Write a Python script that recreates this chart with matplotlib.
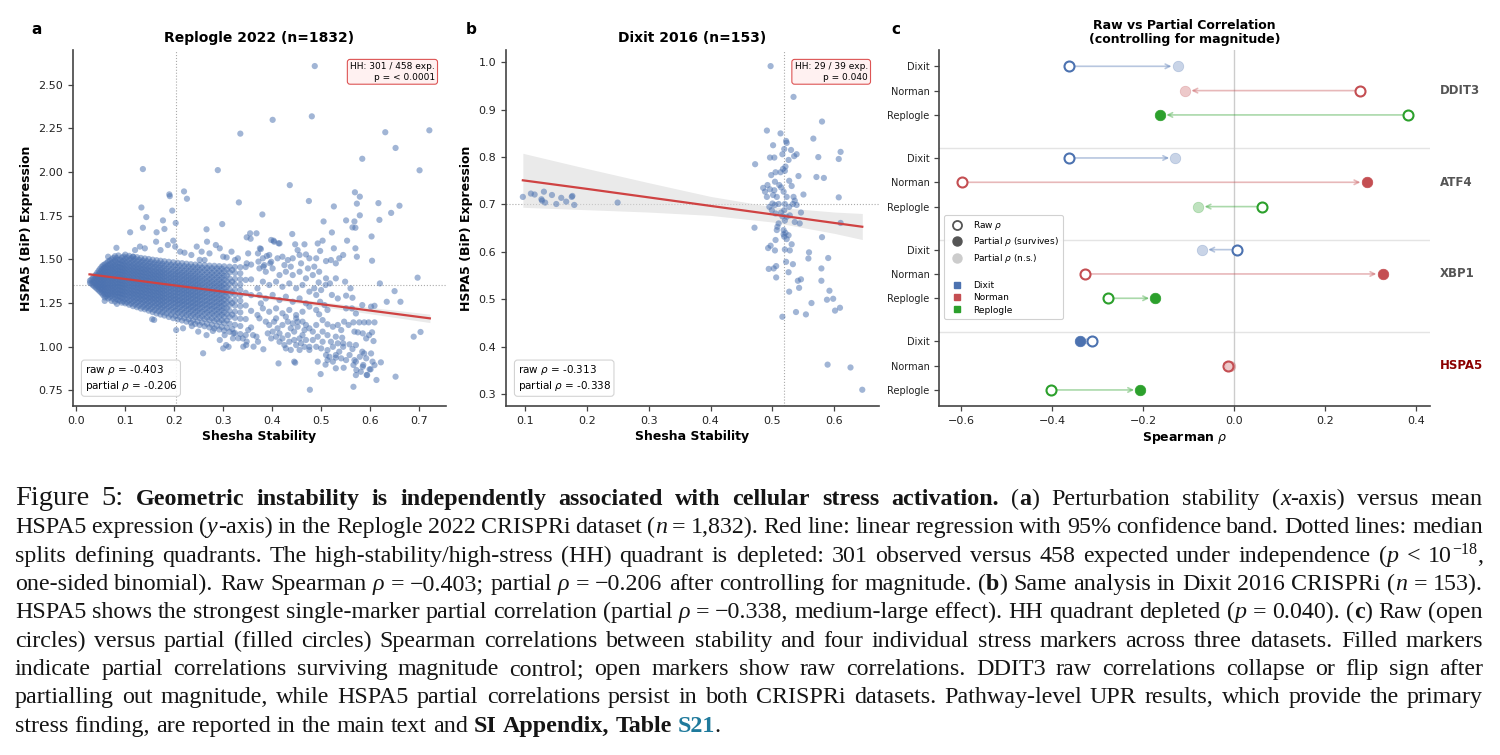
import matplotlib
matplotlib.use("Agg")
import matplotlib.pyplot as plt
from matplotlib.lines import Line2D
import numpy as np

# ---------------------------------------------------------------- data ----
# Panel a : Replogle 2022 -- dense core read as vertical strips (two passes)
a_core_x = [0.028, 0.034, 0.040, 0.046, 0.052, 0.058, 0.065, 0.072, 0.079, 0.086,
            0.093, 0.100, 0.108, 0.116, 0.124, 0.132, 0.140, 0.148, 0.156, 0.164,
            0.172, 0.180, 0.189, 0.198, 0.207, 0.216, 0.225, 0.234, 0.243, 0.252,
            0.262, 0.272, 0.282, 0.292, 0.302, 0.313, 0.324, 0.335, 0.346, 0.357]
a_core_y = [
    [1.365, 1.378],
    [1.352, 1.371, 1.392],
    [1.338, 1.356, 1.375, 1.394, 1.412],
    [1.322, 1.341, 1.359, 1.378, 1.396, 1.415, 1.436],
    [1.305, 1.326, 1.344, 1.361, 1.380, 1.398, 1.417, 1.438, 1.458],
    [1.282, 1.301, 1.322, 1.340, 1.358, 1.377, 1.395, 1.414, 1.433, 1.452, 1.471],
    [1.276, 1.296, 1.316, 1.335, 1.353, 1.372, 1.390, 1.409, 1.428, 1.447, 1.466, 1.488],
    [1.262, 1.290, 1.309, 1.328, 1.347, 1.366, 1.384, 1.403, 1.421, 1.440, 1.459, 1.478, 1.500],
    [1.258, 1.285, 1.304, 1.322, 1.341, 1.360, 1.379, 1.397, 1.416, 1.434, 1.453, 1.472, 1.494, 1.518],
    [1.266, 1.287, 1.306, 1.325, 1.344, 1.362, 1.381, 1.400, 1.418, 1.437, 1.456, 1.475, 1.497, 1.522],
    [1.252, 1.278, 1.298, 1.317, 1.336, 1.355, 1.373, 1.392, 1.411, 1.429, 1.448, 1.467, 1.488, 1.510],
    [1.248, 1.271, 1.292, 1.311, 1.330, 1.349, 1.367, 1.386, 1.405, 1.424, 1.442, 1.461, 1.481, 1.503, 1.527],
    [1.240, 1.264, 1.286, 1.305, 1.324, 1.343, 1.362, 1.381, 1.399, 1.418, 1.437, 1.456, 1.476, 1.498, 1.520],
    [1.232, 1.258, 1.280, 1.300, 1.319, 1.338, 1.357, 1.376, 1.394, 1.413, 1.432, 1.451, 1.471, 1.493, 1.515],
    [1.226, 1.253, 1.275, 1.295, 1.314, 1.333, 1.352, 1.371, 1.390, 1.408, 1.427, 1.446, 1.466, 1.488, 1.512],
    [1.218, 1.246, 1.269, 1.289, 1.309, 1.328, 1.347, 1.366, 1.385, 1.404, 1.423, 1.442, 1.462, 1.484, 1.508],
    [1.214, 1.240, 1.263, 1.284, 1.304, 1.323, 1.342, 1.361, 1.380, 1.399, 1.418, 1.437, 1.457, 1.480, 1.505],
    [1.206, 1.233, 1.257, 1.278, 1.298, 1.318, 1.337, 1.356, 1.375, 1.394, 1.413, 1.433, 1.453, 1.476, 1.502],
    [1.198, 1.227, 1.251, 1.273, 1.293, 1.313, 1.332, 1.351, 1.370, 1.389, 1.408, 1.428, 1.449, 1.472, 1.498],
    [1.190, 1.222, 1.246, 1.268, 1.288, 1.308, 1.327, 1.346, 1.366, 1.385, 1.404, 1.424, 1.445, 1.468, 1.495],
    [1.184, 1.216, 1.240, 1.262, 1.283, 1.303, 1.322, 1.342, 1.361, 1.380, 1.400, 1.420, 1.441, 1.465, 1.492],
    [1.178, 1.210, 1.235, 1.257, 1.278, 1.298, 1.318, 1.337, 1.357, 1.376, 1.396, 1.416, 1.437, 1.461, 1.489],
    [1.170, 1.204, 1.229, 1.252, 1.273, 1.293, 1.313, 1.333, 1.352, 1.372, 1.392, 1.412, 1.433, 1.458, 1.486],
    [1.163, 1.198, 1.224, 1.247, 1.268, 1.288, 1.308, 1.328, 1.348, 1.368, 1.388, 1.408, 1.430, 1.455, 1.483],
    [1.156, 1.192, 1.218, 1.242, 1.263, 1.284, 1.304, 1.324, 1.344, 1.364, 1.384, 1.405, 1.427, 1.452, 1.480],
    [1.150, 1.186, 1.213, 1.237, 1.258, 1.279, 1.300, 1.320, 1.340, 1.360, 1.381, 1.402, 1.424, 1.449, 1.478],
    [1.143, 1.180, 1.208, 1.232, 1.254, 1.275, 1.296, 1.316, 1.336, 1.357, 1.378, 1.399, 1.421, 1.446, 1.475],
    [1.137, 1.175, 1.203, 1.227, 1.249, 1.271, 1.292, 1.312, 1.333, 1.354, 1.375, 1.396, 1.418, 1.444, 1.472],
    [1.130, 1.169, 1.198, 1.222, 1.245, 1.267, 1.288, 1.309, 1.330, 1.351, 1.372, 1.393, 1.416, 1.442, 1.470],
    [1.124, 1.164, 1.193, 1.218, 1.241, 1.263, 1.284, 1.305, 1.326, 1.348, 1.369, 1.391, 1.414, 1.440, 1.468, 1.497],
    [1.117, 1.158, 1.188, 1.213, 1.237, 1.259, 1.281, 1.302, 1.323, 1.345, 1.367, 1.389, 1.412, 1.438, 1.466, 1.496],
    [1.110, 1.152, 1.183, 1.209, 1.233, 1.255, 1.277, 1.299, 1.321, 1.343, 1.365, 1.387, 1.410, 1.436, 1.464],
    [1.104, 1.147, 1.178, 1.205, 1.229, 1.252, 1.274, 1.296, 1.318, 1.340, 1.362, 1.385, 1.409, 1.435, 1.463],
    [1.098, 1.141, 1.173, 1.200, 1.225, 1.248, 1.271, 1.293, 1.315, 1.338, 1.360, 1.383, 1.407, 1.433, 1.461],
    [1.092, 1.136, 1.169, 1.196, 1.221, 1.245, 1.268, 1.290, 1.313, 1.336, 1.358, 1.382, 1.406, 1.432, 1.460],
    [1.085, 1.132, 1.170, 1.205, 1.238, 1.268, 1.298, 1.328, 1.358, 1.390, 1.425, 1.458],
    [1.078, 1.125, 1.165, 1.200, 1.235, 1.265, 1.296, 1.326, 1.356, 1.388, 1.422, 1.456],
    [1.072, 1.118, 1.160, 1.196, 1.232, 1.262, 1.294, 1.325, 1.355, 1.386, 1.420, 1.455],
    [1.066, 1.158, 1.236, 1.308, 1.382, 1.456],
    [1.110, 1.205, 1.295, 1.385, 1.470],
]
a_core2_x = [0.031, 0.037, 0.043, 0.049, 0.055, 0.0615, 0.0685, 0.0755, 0.0825,
             0.0895, 0.0965, 0.104, 0.112, 0.120, 0.128, 0.136, 0.144, 0.152,
             0.160, 0.168, 0.176, 0.1845, 0.1935, 0.2025, 0.2115, 0.2205, 0.2295,
             0.2385, 0.2475, 0.257, 0.267, 0.277, 0.287, 0.297, 0.3075, 0.3185]
a_core2_y = [
    [1.360, 1.384],
    [1.345, 1.364, 1.383, 1.402],
    [1.330, 1.349, 1.367, 1.386, 1.405, 1.424],
    [1.314, 1.333, 1.352, 1.370, 1.389, 1.407, 1.427, 1.447],
    [1.295, 1.314, 1.334, 1.352, 1.371, 1.389, 1.408, 1.427, 1.447, 1.466],
    [1.288, 1.307, 1.327, 1.345, 1.364, 1.383, 1.401, 1.420, 1.439, 1.458, 1.478],
    [1.282, 1.302, 1.321, 1.340, 1.358, 1.377, 1.396, 1.414, 1.433, 1.452, 1.471, 1.493],
    [1.274, 1.297, 1.316, 1.335, 1.353, 1.372, 1.391, 1.409, 1.428, 1.446, 1.465, 1.485, 1.508],
    [1.272, 1.294, 1.313, 1.331, 1.350, 1.369, 1.388, 1.407, 1.425, 1.444, 1.463, 1.484, 1.507],
    [1.262, 1.286, 1.305, 1.324, 1.343, 1.362, 1.380, 1.399, 1.418, 1.437, 1.456, 1.476, 1.498],
    [1.259, 1.282, 1.302, 1.321, 1.340, 1.358, 1.377, 1.396, 1.415, 1.434, 1.452, 1.472, 1.493, 1.516],
    [1.253, 1.276, 1.297, 1.316, 1.335, 1.354, 1.373, 1.392, 1.410, 1.429, 1.448, 1.467, 1.488, 1.511],
    [1.247, 1.270, 1.291, 1.310, 1.329, 1.348, 1.367, 1.386, 1.405, 1.423, 1.442, 1.462, 1.483, 1.506],
    [1.241, 1.265, 1.286, 1.305, 1.324, 1.343, 1.362, 1.381, 1.400, 1.419, 1.438, 1.457, 1.478, 1.502],
    [1.234, 1.259, 1.280, 1.300, 1.319, 1.338, 1.357, 1.376, 1.395, 1.414, 1.433, 1.453, 1.474, 1.497],
    [1.228, 1.253, 1.275, 1.295, 1.314, 1.333, 1.352, 1.371, 1.390, 1.409, 1.428, 1.448, 1.469, 1.493],
    [1.222, 1.247, 1.269, 1.289, 1.309, 1.328, 1.347, 1.366, 1.385, 1.404, 1.424, 1.444, 1.465, 1.489],
    [1.216, 1.241, 1.264, 1.284, 1.304, 1.323, 1.342, 1.361, 1.381, 1.400, 1.419, 1.439, 1.461, 1.485],
    [1.209, 1.236, 1.259, 1.279, 1.299, 1.318, 1.338, 1.357, 1.376, 1.396, 1.415, 1.435, 1.457, 1.481],
    [1.203, 1.230, 1.253, 1.274, 1.294, 1.314, 1.333, 1.353, 1.372, 1.391, 1.411, 1.431, 1.453, 1.478],
    [1.197, 1.224, 1.248, 1.269, 1.289, 1.309, 1.329, 1.348, 1.368, 1.387, 1.407, 1.428, 1.450, 1.475],
    [1.190, 1.219, 1.242, 1.264, 1.284, 1.304, 1.324, 1.344, 1.363, 1.383, 1.403, 1.424, 1.446, 1.472],
    [1.183, 1.213, 1.237, 1.259, 1.279, 1.299, 1.319, 1.339, 1.359, 1.379, 1.399, 1.420, 1.443, 1.469],
    [1.176, 1.207, 1.231, 1.254, 1.274, 1.294, 1.315, 1.335, 1.355, 1.375, 1.396, 1.417, 1.440, 1.466],
    [1.170, 1.201, 1.226, 1.249, 1.269, 1.290, 1.311, 1.331, 1.351, 1.371, 1.392, 1.414, 1.437, 1.463],
    [1.164, 1.195, 1.221, 1.244, 1.265, 1.286, 1.307, 1.327, 1.347, 1.368, 1.389, 1.411, 1.434, 1.461],
    [1.157, 1.190, 1.216, 1.239, 1.261, 1.282, 1.303, 1.323, 1.344, 1.365, 1.386, 1.408, 1.432, 1.458],
    [1.151, 1.184, 1.211, 1.235, 1.256, 1.278, 1.299, 1.320, 1.341, 1.362, 1.384, 1.406, 1.430, 1.456],
    [1.144, 1.179, 1.206, 1.230, 1.252, 1.274, 1.295, 1.316, 1.338, 1.359, 1.381, 1.403, 1.428, 1.454],
    [1.138, 1.173, 1.201, 1.226, 1.248, 1.270, 1.292, 1.313, 1.335, 1.357, 1.379, 1.401, 1.426, 1.452],
    [1.131, 1.167, 1.196, 1.221, 1.244, 1.266, 1.288, 1.310, 1.332, 1.354, 1.376, 1.399, 1.424, 1.450],
    [1.125, 1.162, 1.191, 1.217, 1.240, 1.263, 1.285, 1.307, 1.329, 1.352, 1.374, 1.398, 1.422, 1.449],
    [1.119, 1.156, 1.186, 1.212, 1.236, 1.259, 1.282, 1.304, 1.327, 1.349, 1.372, 1.396, 1.421, 1.448],
    [1.113, 1.151, 1.182, 1.208, 1.233, 1.256, 1.279, 1.302, 1.325, 1.347, 1.370, 1.394, 1.420, 1.447],
    [1.108, 1.150, 1.187, 1.221, 1.253, 1.283, 1.313, 1.343, 1.374, 1.407, 1.441],
    [1.101, 1.183, 1.250, 1.311, 1.372, 1.439],
]
# Panel a : scattered points outside the core (x, y)
a_sparse = [
    (0.487, 2.607), (0.481, 2.319), (0.401, 2.299), (0.335, 2.220), (0.631, 2.228),
    (0.721, 2.239), (0.652, 2.138), (0.584, 2.076), (0.136, 2.017), (0.289, 2.011),
    (0.701, 2.010), (0.436, 1.925), (0.190, 1.872), (0.191, 1.862), (0.220, 1.889),
    (0.226, 1.847), (0.332, 1.826), (0.475, 1.834), (0.569, 1.884), (0.579, 1.859),
    (0.573, 1.819), (0.617, 1.822), (0.660, 1.807), (0.526, 1.803), (0.133, 1.797),
    (0.196, 1.779), (0.143, 1.742), (0.177, 1.723), (0.203, 1.708), (0.380, 1.757),
    (0.643, 1.766), (0.579, 1.752), (0.619, 1.726), (0.551, 1.723), (0.568, 1.717),
    (0.505, 1.717), (0.564, 1.683), (0.570, 1.681), (0.136, 1.681), (0.180, 1.674),
    (0.266, 1.672), (0.298, 1.702), (0.110, 1.655), (0.164, 1.655), (0.441, 1.645),
    (0.522, 1.654), (0.355, 1.649), (0.368, 1.649), (0.603, 1.631), (0.553, 1.607),
    (0.503, 1.607),
    (0.082, 1.566), (0.065, 1.515), (0.116, 1.515), (0.120, 1.553), (0.130, 1.573),
    (0.140, 1.563), (0.163, 1.601), (0.172, 1.553), (0.187, 1.582), (0.198, 1.607),
    (0.202, 1.573), (0.212, 1.544), (0.221, 1.538), (0.235, 1.525), (0.246, 1.573),
    (0.256, 1.544), (0.267, 1.601), (0.272, 1.534), (0.285, 1.582), (0.293, 1.563),
    (0.300, 1.515), (0.307, 1.511), (0.317, 1.544), (0.324, 1.496), (0.330, 1.506),
    (0.348, 1.626), (0.356, 1.618), (0.351, 1.534), (0.348, 1.477), (0.371, 1.534),
    (0.375, 1.563), (0.389, 1.519), (0.396, 1.477), (0.403, 1.607), (0.413, 1.592),
    (0.372, 1.487), (0.382, 1.458),
    (0.398, 1.611), (0.404, 1.601), (0.415, 1.591), (0.447, 1.586), (0.452, 1.553),
    (0.466, 1.586), (0.493, 1.591), (0.498, 1.548), (0.526, 1.563), (0.545, 1.525),
    (0.537, 1.506), (0.570, 1.563), (0.573, 1.515), (0.377, 1.559), (0.394, 1.525),
    (0.381, 1.506), (0.411, 1.506), (0.421, 1.515), (0.432, 1.496), (0.442, 1.506),
    (0.456, 1.525), (0.469, 1.528), (0.476, 1.506), (0.490, 1.506), (0.510, 1.490),
    (0.520, 1.496), (0.530, 1.477), (0.604, 1.492), (0.697, 1.395), (0.620, 1.362),
    (0.650, 1.318), (0.662, 1.257), (0.634, 1.257), (0.689, 1.057), (0.703, 1.084),
    (0.652, 0.828), (0.566, 0.770), (0.477, 0.753), (0.499, 0.843), (0.530, 0.876),
    (0.546, 0.879), (0.571, 0.837), (0.581, 0.856), (0.594, 0.837), (0.601, 0.870),
    (0.613, 0.809), (0.609, 0.894), (0.622, 0.910), (0.585, 0.885), (0.592, 0.933),
    (0.605, 0.914), (0.571, 0.914), (0.579, 0.942), (0.588, 0.961), (0.602, 0.961),
    (0.607, 1.032), (0.558, 0.952), (0.568, 0.923), (0.551, 0.923), (0.541, 0.933),
    (0.530, 0.937), (0.513, 0.923), (0.524, 0.914), (0.510, 0.952), (0.537, 0.971),
    (0.545, 0.999), (0.524, 0.999), (0.520, 1.028), (0.534, 1.019), (0.545, 1.019),
    (0.558, 1.013), (0.564, 0.986), (0.571, 1.009), (0.584, 0.971), (0.568, 1.086),
    (0.575, 1.082), (0.585, 1.076), (0.592, 1.047), (0.598, 1.066), (0.604, 1.082),
    (0.547, 1.143), (0.556, 1.124), (0.566, 1.139), (0.578, 1.139), (0.588, 1.139),
    (0.597, 1.139), (0.609, 1.139), (0.551, 1.219), (0.563, 1.219), (0.571, 1.190),
    (0.584, 1.238), (0.602, 1.229), (0.609, 1.234), (0.560, 1.334), (0.564, 1.280),
    (0.551, 1.292), (0.534, 1.276), (0.522, 1.296), (0.530, 1.391), (0.549, 1.372),
    (0.509, 1.353), (0.518, 1.362), (0.510, 1.391), (0.495, 1.368), (0.486, 1.334),
    (0.500, 1.324), (0.498, 1.257), (0.507, 1.238), (0.513, 1.210), (0.490, 1.210),
    (0.476, 1.229), (0.496, 1.185), (0.503, 1.152), (0.513, 1.128), (0.524, 1.114),
    (0.534, 1.124), (0.541, 1.095), (0.530, 1.057), (0.543, 1.051), (0.503, 1.086),
    (0.513, 1.066), (0.503, 1.028), (0.490, 1.124), (0.483, 1.086), (0.493, 1.057),
    (0.483, 1.038), (0.476, 0.999), (0.490, 0.999), (0.500, 0.990), (0.462, 1.066),
    (0.469, 1.038), (0.459, 1.019), (0.466, 0.999), (0.476, 0.981), (0.513, 0.980),
    (0.517, 0.942), (0.530, 0.952),
    (0.394, 1.124), (0.404, 1.143), (0.411, 1.105), (0.401, 1.086), (0.408, 1.057),
    (0.415, 1.076), (0.421, 1.047), (0.432, 1.066), (0.438, 1.105), (0.442, 1.133),
    (0.445, 1.086), (0.452, 1.114), (0.435, 1.028), (0.445, 1.038), (0.449, 1.009),
    (0.456, 1.047), (0.425, 1.009), (0.415, 1.028), (0.428, 0.990), (0.438, 0.981),
    (0.456, 0.981), (0.462, 1.143), (0.469, 1.124), (0.476, 1.105), (0.466, 1.095),
    (0.452, 1.143), (0.432, 1.143), (0.421, 1.124), (0.398, 1.047), (0.391, 1.076),
    (0.413, 0.904), (0.445, 0.914), (0.493, 0.914), (0.447, 0.908), (0.509, 0.897),
    (0.566, 0.895), (0.572, 0.866), (0.586, 0.895), (0.599, 0.870), (0.593, 0.838),
    (0.374, 1.448), (0.387, 1.429), (0.401, 1.448), (0.415, 1.410), (0.428, 1.429),
    (0.442, 1.410), (0.456, 1.429), (0.469, 1.391), (0.483, 1.410), (0.496, 1.429),
    (0.381, 1.372), (0.394, 1.353), (0.408, 1.372), (0.421, 1.343), (0.435, 1.362),
    (0.449, 1.334), (0.462, 1.353), (0.476, 1.315), (0.490, 1.296), (0.374, 1.296),
    (0.387, 1.276), (0.401, 1.296), (0.415, 1.267), (0.428, 1.286), (0.442, 1.257),
    (0.456, 1.276), (0.469, 1.248), (0.381, 1.219), (0.394, 1.200), (0.408, 1.219),
    (0.421, 1.191), (0.435, 1.210), (0.449, 1.181), (0.462, 1.200), (0.374, 1.162),
    (0.387, 1.143), (0.408, 1.162), (0.428, 1.171), (0.449, 1.162), (0.384, 1.467),
    (0.398, 1.486), (0.425, 1.467), (0.438, 1.458), (0.459, 1.477), (0.486, 1.458),
    (0.473, 1.448), (0.370, 1.334), (0.377, 1.248), (0.370, 1.181),
    (0.155, 1.157), (0.159, 1.153), (0.204, 1.095), (0.218, 1.105), (0.249, 1.086),
    (0.266, 1.066), (0.293, 1.038), (0.306, 1.009), (0.303, 1.066), (0.320, 1.047),
    (0.347, 1.009), (0.340, 1.047), (0.361, 1.066), (0.371, 1.028), (0.300, 0.990),
    (0.311, 0.999), (0.341, 1.000), (0.362, 1.000), (0.348, 1.029), (0.331, 1.048),
    (0.321, 1.076), (0.351, 1.095), (0.368, 1.057), (0.382, 0.985), (0.259, 0.962),
    (0.058, 1.262), (0.083, 1.245), (0.236, 1.118), (0.279, 1.090),
]
a_reg_x = [0.027, 0.200, 0.400, 0.550, 0.722]
a_reg_y = [1.414, 1.351, 1.279, 1.225, 1.162]
a_band_lo = [1.402, 1.345, 1.269, 1.209, 1.138]
a_band_hi = [1.426, 1.357, 1.289, 1.241, 1.186]
a_median_x, a_median_y = 0.204, 1.351

# Panel b : Dixit 2016
b_points = [
    (0.097, 0.716), (0.110, 0.723), (0.116, 0.721), (0.127, 0.711), (0.131, 0.727),
    (0.133, 0.704), (0.128, 0.708), (0.144, 0.720), (0.151, 0.701), (0.159, 0.714),
    (0.167, 0.706), (0.176, 0.716), (0.177, 0.718), (0.180, 0.699), (0.250, 0.704),
    (0.497, 0.992), (0.534, 0.927), (0.580, 0.875), (0.491, 0.856), (0.513, 0.850),
    (0.566, 0.839), (0.522, 0.834), (0.523, 0.830), (0.501, 0.825), (0.519, 0.817),
    (0.530, 0.815), (0.610, 0.811), (0.539, 0.806), (0.535, 0.802), (0.516, 0.806),
    (0.496, 0.799), (0.503, 0.799), (0.574, 0.800), (0.607, 0.796), (0.526, 0.794),
    (0.472, 0.785), (0.521, 0.780), (0.517, 0.775), (0.505, 0.768), (0.513, 0.768),
    (0.520, 0.771), (0.498, 0.762), (0.542, 0.760), (0.571, 0.758), (0.583, 0.756),
    (0.527, 0.750), (0.504, 0.748), (0.511, 0.741), (0.531, 0.739), (0.492, 0.741),
    (0.485, 0.735), (0.488, 0.727), (0.496, 0.732), (0.503, 0.730), (0.514, 0.736),
    (0.518, 0.727), (0.550, 0.721), (0.607, 0.715), (0.491, 0.716), (0.501, 0.720),
    (0.507, 0.716), (0.523, 0.716), (0.534, 0.716), (0.536, 0.708), (0.500, 0.702),
    (0.504, 0.699), (0.510, 0.701), (0.520, 0.701), (0.527, 0.695), (0.539, 0.699),
    (0.495, 0.695), (0.499, 0.688), (0.505, 0.681), (0.514, 0.683), (0.519, 0.688),
    (0.533, 0.701), (0.546, 0.683), (0.516, 0.675), (0.523, 0.674), (0.528, 0.677),
    (0.536, 0.663), (0.544, 0.660), (0.610, 0.661), (0.471, 0.651), (0.510, 0.660),
    (0.508, 0.653), (0.507, 0.646), (0.520, 0.666), (0.518, 0.646), (0.521, 0.640),
    (0.526, 0.635), (0.518, 0.637), (0.519, 0.632), (0.523, 0.627), (0.580, 0.631),
    (0.505, 0.625), (0.531, 0.616), (0.497, 0.613), (0.493, 0.608), (0.504, 0.603),
    (0.520, 0.605), (0.528, 0.603), (0.559, 0.599), (0.558, 0.586), (0.590, 0.587),
    (0.522, 0.579), (0.533, 0.574), (0.494, 0.564), (0.502, 0.565), (0.506, 0.570),
    (0.579, 0.565), (0.526, 0.557), (0.506, 0.546), (0.541, 0.539), (0.546, 0.542),
    (0.579, 0.539), (0.543, 0.524), (0.527, 0.516), (0.592, 0.518), (0.563, 0.492),
    (0.588, 0.499), (0.598, 0.501), (0.609, 0.482), (0.601, 0.476), (0.516, 0.463),
    (0.538, 0.473), (0.554, 0.468), (0.589, 0.362), (0.626, 0.356), (0.645, 0.309),
]
b_reg_x = [0.097, 0.200, 0.300, 0.400, 0.500, 0.600, 0.645]
b_reg_y = [0.751, 0.733, 0.715, 0.697, 0.679, 0.661, 0.653]
b_band_lo = [0.694, 0.689, 0.684, 0.677, 0.663, 0.639, 0.626]
b_band_hi = [0.808, 0.776, 0.746, 0.717, 0.695, 0.684, 0.681]
b_median_x, b_median_y = 0.519, 0.700

# Panel c : raw vs partial Spearman rho
stress_markers = ["DDIT3", "ATF4", "XBP1", "HSPA5"]
datasets = ["Dixit", "Norman", "Replogle"]
raw_rho = [[-0.364, 0.277, 0.382],
           [-0.362, -0.599, 0.061],
           [0.005, -0.327, -0.277],
           [-0.313, -0.014, -0.403]]
partial_rho = [[-0.124, -0.108, -0.163],
               [-0.129, 0.291, -0.079],
               [-0.071, 0.326, -0.173],
               [-0.338, -0.009, -0.206]]
survives = [[False, False, True],
            [False, True, False],
            [False, True, True],
            [True, False, True]]

# ---------------------------------------------------------------- style ---
BLUE, RED, GREEN = "#4C72B0", "#C44E52", "#2CA02C"
DS_COLORS = [BLUE, RED, GREEN]
LINE_RED = "#cf4242"
SPINE = "#444444"
W, H = 1500, 755

plt.rcParams["font.family"] = ["DejaVu Sans"]
fig = plt.figure(figsize=(15, 7.55), dpi=100)


def px_axes(l, r, t, b):
    return fig.add_axes([l / W, 1 - b / H, (r - l) / W, (b - t) / H])


def style_axes(ax):
    for s in ("top", "right"):
        ax.spines[s].set_visible(False)
    for s in ("left", "bottom"):
        ax.spines[s].set_color(SPINE)
        ax.spines[s].set_linewidth(1.2)
    ax.tick_params(axis="both", labelsize=8, length=3.5, width=0.9,
                   color=SPINE, labelcolor="#222222")


def scatter_panel(ax, xs, ys, reg_x, reg_y, lo, hi, mx, my, title,
                  hh_text, rho_text):
    ax.fill_between(reg_x, lo, hi, color="#dcdcdc", alpha=0.6, lw=0, zorder=1)
    ax.scatter(xs, ys, s=20, color=BLUE, alpha=0.52, edgecolors="none",
               zorder=2)
    ax.plot(reg_x, reg_y, color=LINE_RED, lw=1.6, zorder=3)
    ax.axvline(mx, color="#aaaaaa", ls=":", lw=0.8, zorder=0.5)
    ax.axhline(my, color="#aaaaaa", ls=":", lw=0.8, zorder=0.5)
    ax.set_title(title, fontsize=10, fontweight="bold", pad=5.5)
    ax.set_xlabel("Shesha Stability", fontsize=9, fontweight="bold", labelpad=3)
    ax.set_ylabel("HSPA5 (BiP) Expression", fontsize=9, fontweight="bold",
                  labelpad=4)
    ax.text(0.970, 0.966, hh_text, transform=ax.transAxes, ha="right", va="top",
            fontsize=6.5, multialignment="right", zorder=5,
            bbox=dict(boxstyle="round,pad=0.3", fc="#fff1f1", ec="#dd5555",
                      lw=0.8))
    ax.text(0.031, 0.036, rho_text, transform=ax.transAxes, ha="left",
            va="bottom", fontsize=7.5, zorder=5,
            bbox=dict(boxstyle="round,pad=0.3", fc="white", ec="#cccccc",
                      lw=0.8, alpha=0.85))
    style_axes(ax)


# ---- panel a
ax_a = px_axes(73, 446, 50, 406)
ax_x = [x for x, col in zip(a_core_x, a_core_y) for _ in col]
ax_y = [y for col in a_core_y for y in col]
ax_x += [x for x, col in zip(a_core2_x, a_core2_y) for _ in col]
ax_y += [y for col in a_core2_y for y in col]
ax_x += [p[0] for p in a_sparse]
ax_y += [p[1] for p in a_sparse]
scatter_panel(ax_a, ax_x, ax_y, a_reg_x, a_reg_y, a_band_lo, a_band_hi,
              a_median_x, a_median_y, "Replogle 2022 (n=1832)",
              "HH: 301 / 458 exp.\np = < 0.0001",
              "raw $\\rho$ = -0.403\npartial $\\rho$ = -0.206")
ax_a.set_xlim(-0.0067, 0.755)
ax_a.set_ylim(0.660, 2.699)
ax_a.set_xticks([0.0, 0.1, 0.2, 0.3, 0.4, 0.5, 0.6, 0.7])
ax_a.set_yticks([0.75, 1.00, 1.25, 1.50, 1.75, 2.00, 2.25, 2.50])

# ---- panel b
ax_b = px_axes(506, 879, 50, 406)
scatter_panel(ax_b, [p[0] for p in b_points], [p[1] for p in b_points],
              b_reg_x, b_reg_y, b_band_lo, b_band_hi, b_median_x, b_median_y,
              "Dixit 2016 (n=153)", "HH: 29 / 39 exp.\np = 0.040",
              "raw $\\rho$ = -0.313\npartial $\\rho$ = -0.338")
ax_b.set_xlim(0.0698, 0.672)
ax_b.set_ylim(0.2747, 1.026)
ax_b.set_xticks([0.1, 0.2, 0.3, 0.4, 0.5, 0.6])
ax_b.set_yticks([0.3, 0.4, 0.5, 0.6, 0.7, 0.8, 0.9, 1.0])

# ---- panel c
ax_c = px_axes(939.2, 1430, 50, 406)
GROUP_STEP = 3.77
rows_y, rows_lab = [], []
for g, mk in enumerate(stress_markers):
    for i, ds in enumerate(datasets):
        y = g * GROUP_STEP + i
        rows_y.append(y)
        rows_lab.append(ds)
        col = DS_COLORS[i]
        r, p = raw_rho[g][i], partial_rho[g][i]
        short = abs(p - r) < 0.02
        ax_c.annotate("", xy=(p, y), xytext=(r, y),
                      arrowprops=dict(arrowstyle="->", color=col, alpha=0.4,
                                      lw=1.2, mutation_scale=8,
                                      shrinkA=0 if short else 4,
                                      shrinkB=0 if short else 4.5),
                      zorder=2)
        ax_c.plot([r], [y], marker="o", ls="", ms=7.2, mfc="white", mec=col,
                  mew=1.5, zorder=3)
        if survives[g][i]:
            ax_c.plot([p], [y], marker="o", ls="", ms=7.6, mfc=col, mec=col,
                      mew=0.5, zorder=4)
        else:
            ax_c.plot([p], [y], marker="o", ls="", ms=7.6, mfc=col, mec=col,
                      mew=0.5, alpha=0.3, zorder=4)
    ax_c.text(1.0204, g * GROUP_STEP + 1, mk, transform=ax_c.get_yaxis_transform(),
              ha="left", va="center", fontsize=8.5, fontweight="bold",
              color="#8B0000" if mk == "HSPA5" else "#555555")
    if g > 0:
        ax_c.axhline(g * GROUP_STEP - 0.4, color="#e4e4e4", lw=1.0, zorder=0.5)
ax_c.axvline(0, color="#cccccc", lw=1.0, zorder=0.6)
ax_c.set_yticks(rows_y)
ax_c.set_yticklabels(rows_lab)
ax_c.set_ylim(13.97, -0.67)
ax_c.set_xlim(-0.648, 0.430)
ax_c.set_xticks([-0.6, -0.4, -0.2, 0.0, 0.2, 0.4])
style_axes(ax_c)
ax_c.tick_params(axis="y", labelsize=7)
ax_c.set_xlabel("Spearman $\\rho$", fontsize=9, fontweight="bold", labelpad=3)
ax_c.set_title("Raw vs Partial Correlation\n(controlling for magnitude)",
               fontsize=9, fontweight="bold", pad=5, linespacing=1.1)
handles = [
    Line2D([], [], ls="", marker="o", ms=6.5, mfc="white", mec="#555555", mew=1.3),
    Line2D([], [], ls="", marker="o", ms=6.5, mfc="#555555", mec="#555555"),
    Line2D([], [], ls="", marker="o", ms=6.5, mfc="#cccccc", mec="#cccccc"),
    Line2D([], [], ls="", marker=None),
    Line2D([], [], ls="", marker="s", ms=4.5, mfc=BLUE, mec=BLUE),
    Line2D([], [], ls="", marker="s", ms=4.5, mfc=RED, mec=RED),
    Line2D([], [], ls="", marker="s", ms=4.5, mfc=GREEN, mec=GREEN),
]
labels = ["Raw $\\rho$", "Partial $\\rho$ (survives)", "Partial $\\rho$ (n.s.)", " ",
          "Dixit", "Norman", "Replogle"]
leg = ax_c.legend(handles, labels, loc="upper left", bbox_to_anchor=(0.0098, 0.5365),
                  borderaxespad=0, fontsize=6.5, labelspacing=0.38, frameon=True,
                  edgecolor="#cccccc", framealpha=0.9, handletextpad=0.8,
                  borderpad=0.45)
leg.get_frame().set_linewidth(0.8)

# panel letters
for lab, xp in (("a", 37), ("b", 471), ("c", 896)):
    fig.text(xp / W, 1 - 29 / H, lab, fontsize=11, fontweight="bold",
             ha="center", va="center")

# ---------------------------------------------------------------- caption --
caption_lines = [
    "#Figure 5:# *Geometric instability is independently associated with cellular stress activation.* (*a*) Perturbation stability (_x_-axis) versus mean",
    "HSPA5 expression (_y_-axis) in the Replogle 2022 CRISPRi dataset (_n_ = 1,832). Red line: linear regression with 95% confidence band. Dotted lines: median",
    "splits defining quadrants. The high-stability/high-stress (HH) quadrant is depleted: 301 observed versus 458 expected under independence (_p_ < 10^\u221218^,",
    "one-sided binomial). Raw Spearman _\u03c1_ = \u22120.403; partial _\u03c1_ = \u22120.206 after controlling for magnitude. (*b*) Same analysis in Dixit 2016 CRISPRi (_n_ = 153).",
    "HSPA5 shows the strongest single-marker partial correlation (partial _\u03c1_ = \u22120.338, medium-large effect). HH quadrant depleted (_p_ = 0.040). (*c*) Raw (open",
    "circles) versus partial (filled circles) Spearman correlations between stability and four individual stress markers across three datasets. Filled markers",
    "indicate partial correlations surviving magnitude control; open markers show raw correlations. DDIT3 raw correlations collapse or flip sign after",
    "partialling out magnitude, while HSPA5 partial correlations persist in both CRISPRi datasets. Pathway-level UPR results, which provide the primary",
    "stress finding, are reported in the main text and *SI Appendix, Table @S21@*.",
]
CAP_LEFT, CAP_RIGHT = 15, 1483
CAP_BASE0, CAP_STEP = 505, 28.35
CAP_SIZE, CAP_BIG, CAP_SUP = 17.3, 20.5, 11.5
CAP_FONT = "Liberation Serif"
LINK = "#1f7a9c"
TOGGLES = {"*": "b", "_": "i", "#": "big", "@": "link", "^": "sup"}


def parse_caption(line):
    state = set()
    words, cur = [], []
    for ch in line:
        if ch in TOGGLES:
            state ^= {TOGGLES[ch]}
            continue
        if ch == " ":
            if cur:
                words.append(cur)
                cur = []
            continue
        st = frozenset(state)
        if cur and cur[-1][1] == st:
            cur[-1] = (cur[-1][0] + ch, st)
        else:
            cur.append((ch, st))
    if cur:
        words.append(cur)
    return words


def run_props(st):
    size = CAP_BIG if "big" in st else (CAP_SUP if "sup" in st else CAP_SIZE)
    return dict(fontfamily=CAP_FONT, fontsize=size,
                fontweight="bold" if "b" in st else "normal",
                fontstyle="italic" if "i" in st else "normal",
                color=LINK if "link" in st else "#151515")


renderer = fig.canvas.get_renderer()
t1 = fig.text(0, 0, "a a", fontfamily=CAP_FONT, fontsize=CAP_SIZE)
t2 = fig.text(0, 0, "aa", fontfamily=CAP_FONT, fontsize=CAP_SIZE)
space_w = (t1.get_window_extent(renderer).width -
           t2.get_window_extent(renderer).width)
t1.remove()
t2.remove()

for li, line in enumerate(caption_lines):
    base = CAP_BASE0 + li * CAP_STEP
    words = parse_caption(line)
    placed = []
    for w in words:
        items, ww = [], 0.0
        for txt, st in w:
            dy = 7.5 if "sup" in st else 0.0
            t = fig.text(0, 1 - (base - dy) / H, txt, ha="left", va="baseline",
                         **run_props(st))
            wd = t.get_window_extent(renderer).width
            items.append((t, wd))
            ww += wd
        placed.append((items, ww))
    total = sum(p[1] for p in placed)
    if li < len(caption_lines) - 1 and len(placed) > 1:
        gap = (CAP_RIGHT - CAP_LEFT - total) / (len(placed) - 1)
    else:
        gap = space_w
    x = CAP_LEFT
    for items, ww in placed:
        xx = x
        for t, wd in items:
            t.set_x(xx / W)
            xx += wd
        x += ww + gap

fig.savefig("out.png", dpi=100)
